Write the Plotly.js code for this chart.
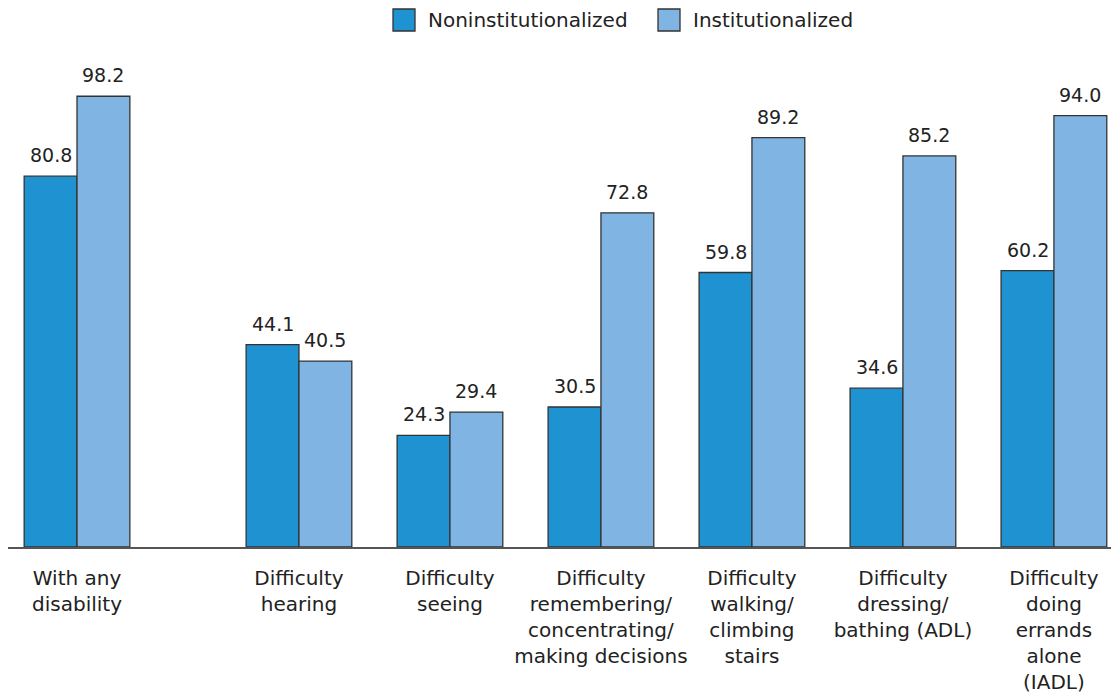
<!DOCTYPE html>
<html>
<head>
<meta charset="utf-8">
<script src="https://cdn.plot.ly/plotly-3.0.1.min.js"></script>
<style>html,body{margin:0;padding:0;background:#fff}#chart{width:1111px;height:694px}</style>
</head>
<body>
<div id="chart"></div>
<script>
const categories = [
  "With any<br>disability",
  "Difficulty<br>hearing",
  "Difficulty<br>seeing",
  "Difficulty<br>remembering/<br>concentrating/<br>making decisions",
  "Difficulty<br>walking/<br>climbing<br>stairs",
  "Difficulty<br>dressing/<br>bathing (ADL)",
  "Difficulty<br>doing<br>errands<br>alone<br>(IADL)"
];
const seriesNames = ["Noninstitutionalized", "Institutionalized"];
const nonInst = [80.8, 44.1, 24.3, 30.5, 59.8, 34.6, 60.2];
const inst = [98.2, 40.5, 29.4, 72.8, 89.2, 85.2, 94.0];

const FONT = "DejaVu Sans, sans-serif";
const COLORS = ['#1f93d1', '#80b4e2'];
const xpos = categories.map((c, i) => i === 0 ? 0 : i + 0.47);
const off = 0.175;

const traces = [nonInst, inst].map((vals, s) => ({
  type: 'bar', name: seriesNames[s], x: xpos, y: vals,
  marker: {color: COLORS[s], line: {color: '#333', width: 1.3}}, hoverinfo: 'none'
}));

// pixel -> paper helpers (plot area: x 8..1111, y 88..547)
const px = p => (p - 8) / 1103;
const py = p => (547 - p) / 459;

const annotations = [];
[nonInst, inst].forEach((vals, s) => {
  vals.forEach((v, i) => {
    annotations.push({x: xpos[i] + (s === 0 ? -off : off), y: v, xref: 'x', yref: 'y',
      text: v.toFixed(1), showarrow: false, yanchor: 'bottom', yshift: 8,
      font: {family: FONT, size: 19, color: '#222'}});
  });
});

const shapes = [];
const legendX = [393, 658];
seriesNames.forEach((n, s) => {
  shapes.push({type: 'rect', xref: 'paper', yref: 'paper',
    x0: px(legendX[s]), x1: px(legendX[s] + 22), y0: py(31), y1: py(9),
    fillcolor: COLORS[s], line: {color: '#333', width: 1.3}});
  annotations.push({xref: 'paper', yref: 'paper', x: px(legendX[s] + 33), y: py(20),
    xanchor: 'left', yanchor: 'middle', text: n, showarrow: false,
    font: {family: FONT, size: 20, color: '#222'}});
});

const layout = {
  width: 1111, height: 694,
  margin: {l: 8, r: 0, t: 88, b: 147},
  paper_bgcolor: '#fff', plot_bgcolor: '#fff',
  barmode: 'group', bargap: 0.30, bargroupgap: 0,
  showlegend: false,
  xaxis: {range: [-0.457, 6.848], tickvals: xpos, ticktext: categories,
    showline: true, linecolor: '#555', linewidth: 1.5, showgrid: false, zeroline: false,
    ticks: 'outside', ticklen: 12, tickcolor: 'rgba(0,0,0,0)',
    tickfont: {family: FONT, size: 20, color: '#222'}},
  yaxis: {range: [0, 100], visible: false, showgrid: false, zeroline: false},
  annotations: annotations,
  shapes: shapes,
  font: {family: FONT}
};

Plotly.newPlot('chart', traces, layout, {displayModeBar: false, staticPlot: true});
</script>
</body>
</html>
